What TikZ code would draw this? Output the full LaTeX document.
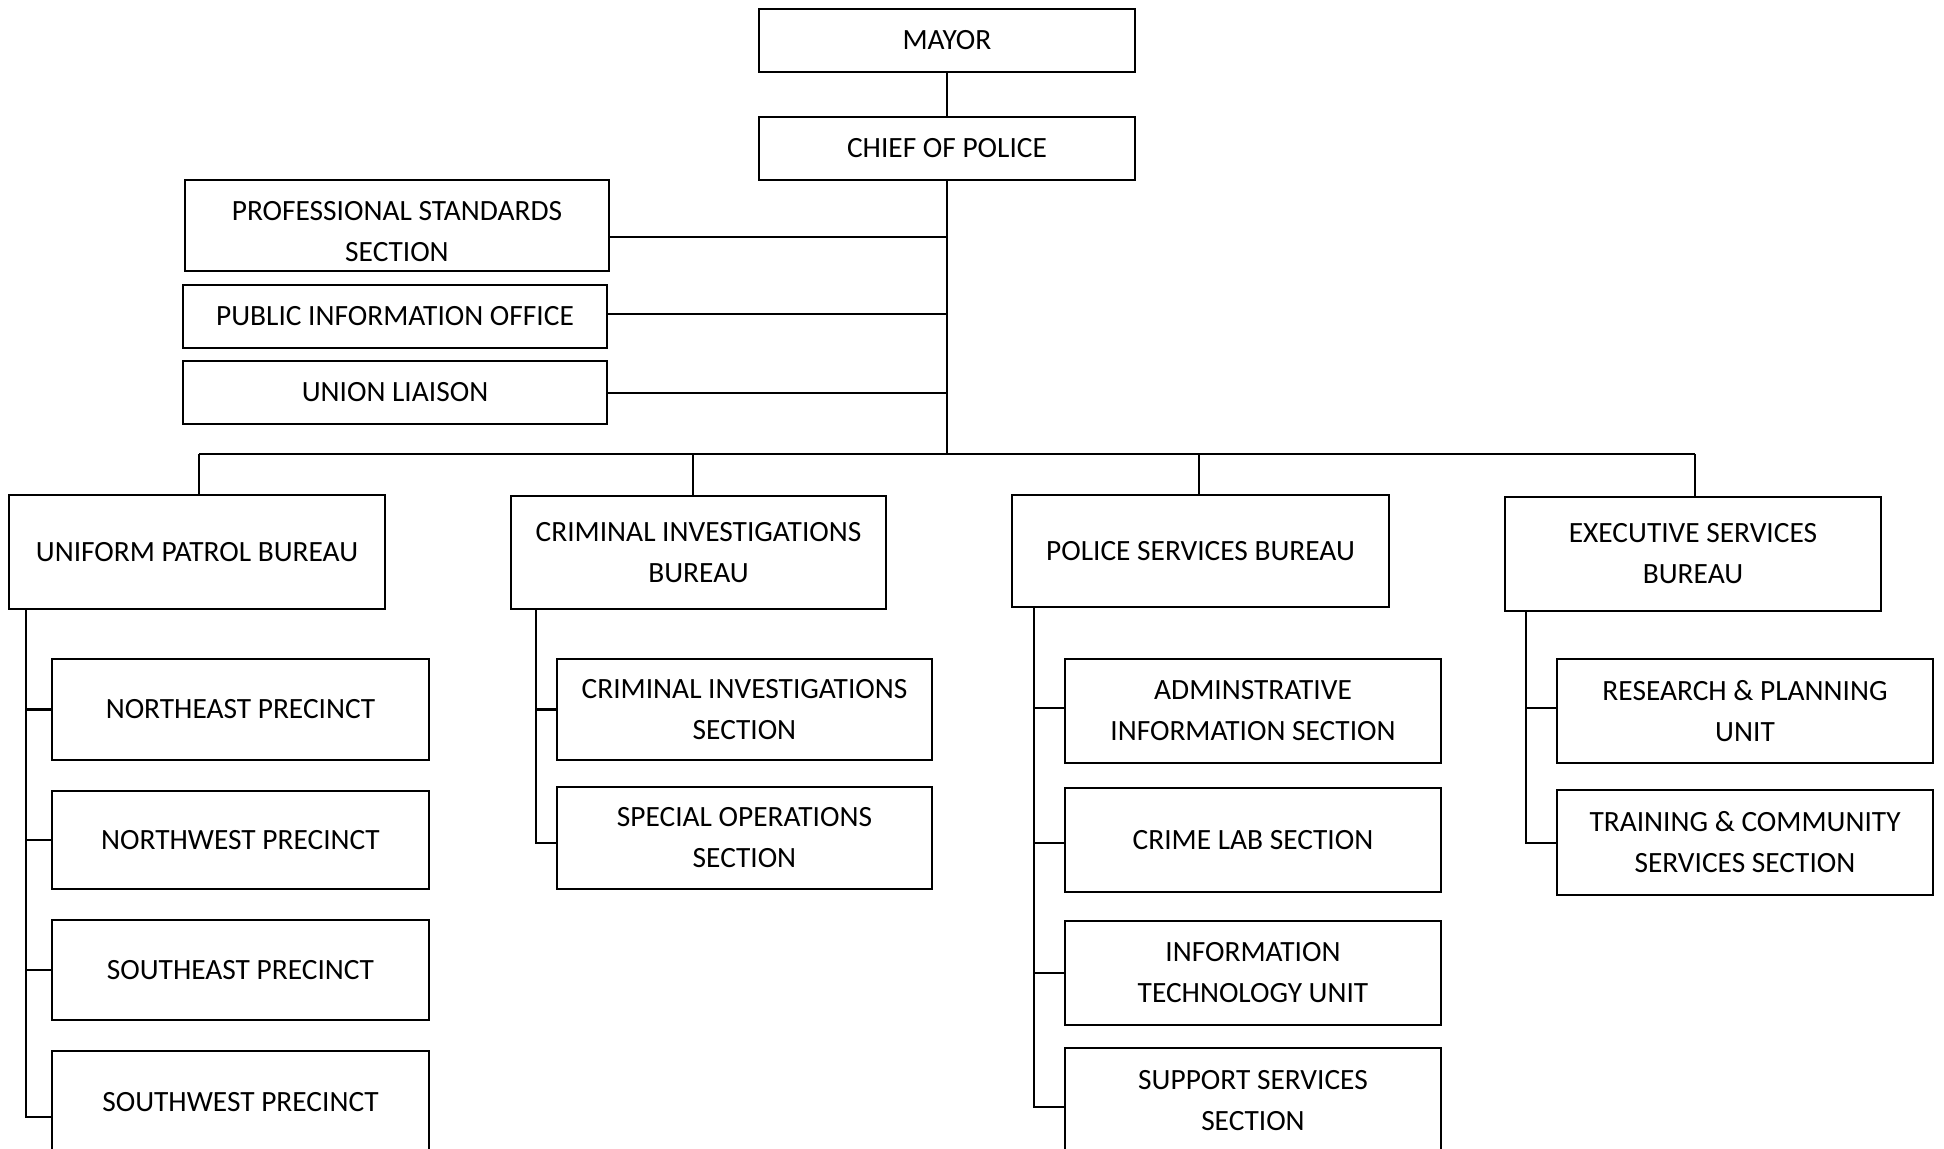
\documentclass[tikz,border=0pt]{standalone}
\usepackage{fontspec}
\setmainfont{Carlito}
\newcommand\orgbox[6]{\node[box, minimum width={(#4-#2)*0.5pt}, minimum height={(#5-#3)*0.5pt}] (#1) at ({(#2+#4)/2},{(#3+#5)/2}) {#6};}
\begin{document}
\begin{tikzpicture}[x=0.5pt,y=-0.5pt,
  box/.style={draw, line width=1.1pt, align=center, inner sep=0pt, font=\fontsize{14.7}{20.5}\selectfont},
  conn/.style={line width=1.1pt}]
\useasboundingbox[fill=white] (0,0) rectangle (1944,1149);
% top
\orgbox{mayor}{759}{9}{1135}{72}{MAYOR}
\orgbox{chief}{759}{117}{1135}{180}{CHIEF OF POLICE}
\orgbox{pss}{185}{180}{609}{271}{\rule{0pt}{15.5pt}PROFESSIONAL STANDARDS\\SECTION}
\orgbox{pio}{183}{285}{607}{348}{PUBLIC INFORMATION OFFICE}
\orgbox{ul}{183}{361}{607}{424}{UNION LIAISON}
% bureaus
\orgbox{upb}{9}{495}{385}{609}{UNIFORM PATROL BUREAU}
\orgbox{cib}{511}{496}{886}{609}{CRIMINAL INVESTIGATIONS\\BUREAU}
\orgbox{psb}{1012}{495}{1389}{607}{POLICE SERVICES BUREAU}
\orgbox{esb}{1505}{497}{1881}{611}{EXECUTIVE SERVICES\\BUREAU}
% uniform patrol
\orgbox{ne}{52}{659}{429}{760}{NORTHEAST PRECINCT}
\orgbox{nw}{52}{791}{429}{889}{NORTHWEST PRECINCT}
\orgbox{se}{52}{920}{429}{1020}{SOUTHEAST PRECINCT}
\orgbox{sw}{52}{1051}{429}{1153}{SOUTHWEST PRECINCT}
% criminal investigations
\orgbox{cis}{557}{659}{932}{760}{CRIMINAL INVESTIGATIONS\\SECTION}
\orgbox{sos}{557}{787}{932}{889}{SPECIAL OPERATIONS\\SECTION}
% police services
\orgbox{ais}{1065}{659}{1441}{763}{ADMINSTRATIVE\\INFORMATION SECTION}
\orgbox{cls}{1065}{788}{1441}{892}{CRIME LAB SECTION}
\orgbox{itu}{1065}{921}{1441}{1025}{INFORMATION\\TECHNOLOGY UNIT}
\orgbox{sss}{1065}{1048}{1441}{1153}{SUPPORT SERVICES\\SECTION}
% executive services
\orgbox{rpu}{1557}{659}{1933}{763}{RESEARCH \& PLANNING\\UNIT}
\orgbox{tcs}{1557}{790}{1933}{895}{TRAINING \& COMMUNITY\\SERVICES SECTION}

% connectors
\coordinate (bus) at (945,454);
\draw[conn] (mayor.south) -- (chief.north);
\draw[conn] (chief.south) -- (chief.south |- bus);
\draw[conn] (pss.east |- 0,237) -- (chief.south |- 0,237);
\draw[conn] (pio.east |- 0,314) -- (chief.south |- 0,314);
\draw[conn] (ul.east |- 0,393) -- (chief.south |- 0,393);
\draw[conn] (bus -| 199,0) -- (bus -| 1695,0);
\draw[conn] (bus -| 199,0) -- (upb.north -| 199,0);
\draw[conn] (bus -| 693,0) -- (cib.north -| 693,0);
\draw[conn] (bus -| 1199,0) -- (psb.north -| 1199,0);
\draw[conn] (bus -| 1695,0) -- (esb.north -| 1695,0);

\coordinate (s1) at ([xshift=9pt]upb.south west);
\draw[conn] (s1) |- (ne.west);
\draw[conn] (s1) |- (nw.west);
\draw[conn] (s1) |- (se.west);
\draw[conn] (s1) |- (sw.west |- 0,1117);

\coordinate (s2) at ([xshift=13pt]cib.south west);
\draw[conn] (s2) |- (cis.west);
\draw[conn] (s2) |- (sos.west |- 0,843);

\coordinate (s3) at ([xshift=11.5pt]psb.south west);
\draw[conn] (s3) |- (ais.west |- 0,708);
\draw[conn] (s3) |- (cls.west |- 0,843);
\draw[conn] (s3) |- (itu.west |- 0,973);
\draw[conn] (s3) |- (sss.west |- 0,1107);

\coordinate (s4) at ([xshift=11pt]esb.south west);
\draw[conn] (s4) |- (rpu.west |- 0,708);
\draw[conn] (s4) |- (tcs.west |- 0,843);
\end{tikzpicture}
\end{document}
